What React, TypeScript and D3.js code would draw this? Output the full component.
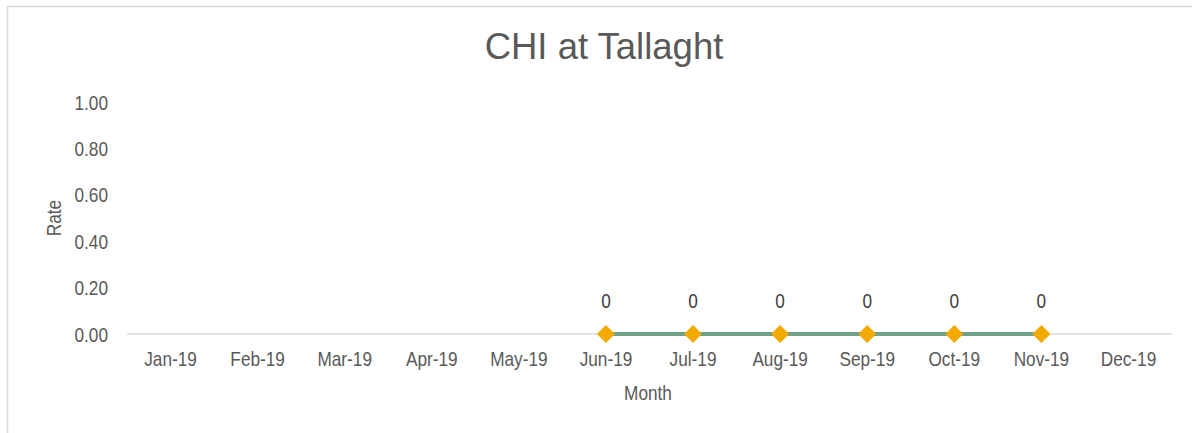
import * as d3 from "d3";

const months = ["Jan-19", "Feb-19", "Mar-19", "Apr-19", "May-19", "Jun-19", "Jul-19", "Aug-19", "Sep-19", "Oct-19", "Nov-19", "Dec-19"];
const rates: (number | null)[] = [null, null, null, null, null, 0, 0, 0, 0, 0, 0, null];
const yTicks = [0, 0.2, 0.4, 0.6, 0.8, 1.0];

const font = "'Liberation Sans', Arial, sans-serif";
const squeeze = 0.82; // fake "Arial Narrow" look

// text drawn narrow by squeezing horizontally around its anchor
function NText({ x, y, anchor = "middle", rotate = 0, size = 21, fill = "#595959", children }: any) {
  return (
    <text
      transform={`translate(${x},${y}) rotate(${rotate}) scale(${squeeze},1)`}
      textAnchor={anchor}
      fontSize={size}
      fill={fill}
      fontFamily={font}
    >
      {children}
    </text>
  );
}

export default function App() {
  const width = 1192;
  const height = 433;
  const margin = { top: 102, right: 20, bottom: 99, left: 127 };
  const plotRight = width - margin.right;

  const x = d3.scaleBand().domain(months).range([margin.left, plotRight]);
  const y = d3.scaleLinear().domain([0, 1]).range([height - margin.bottom, margin.top]);

  const points = months
    .map((m, i) => ({ m, v: rates[i] }))
    .filter(d => d.v !== null) as { m: string; v: number }[];

  const cx = (m: string) => (x(m) ?? 0) + x.bandwidth() / 2;

  const line = d3
    .line<{ m: string; v: number }>()
    .x(d => cx(d.m))
    .y(d => y(d.v));

  const diamond = d3.symbol().type(d3.symbolDiamond2).size(206)();
  const bottomY = y(0);

  return (
    <svg width={width} height={height} style={{ position: "absolute", left: 0, top: 0, background: "#fff" }}>
      {/* chart frame */}
      <rect x={7.5} y={6.5} width={1200} height={440} fill="none" stroke="#d9d9d9" strokeWidth={1.5} />

      {/* title */}
      <text x={604} y={59} textAnchor="middle" fontSize="36.5" fill="#595959" fontFamily={font}>
        CHI at Tallaght
      </text>

      {/* y ticks */}
      {yTicks.map(t => (
        <NText key={t} x={108} y={y(t) + 7.5} anchor="end">
          {t.toFixed(2)}
        </NText>
      ))}

      {/* x axis line */}
      <line x1={margin.left} x2={plotRight} y1={bottomY} y2={bottomY} stroke="#d9d9d9" strokeWidth={1.5} />

      {/* x ticks */}
      {months.map(m => (
        <NText key={m} x={cx(m)} y={366}>
          {m}
        </NText>
      ))}

      {/* axis titles */}
      <NText x={648} y={400}>Month</NText>
      <NText x={61} y={218} rotate={-90}>Rate</NText>

      {/* series */}
      <path d={line(points) ?? ""} fill="none" stroke="#70a287" strokeWidth={4} />
      {points.map(d => (
        <g key={d.m}>
          <path d={diamond ?? ""} transform={`translate(${cx(d.m)},${y(d.v)})`} fill="#f2a900" />
          <NText x={cx(d.m)} y={y(d.v) - 26} fill="#404040">
            {d.v}
          </NText>
        </g>
      ))}
    </svg>
  );
}
